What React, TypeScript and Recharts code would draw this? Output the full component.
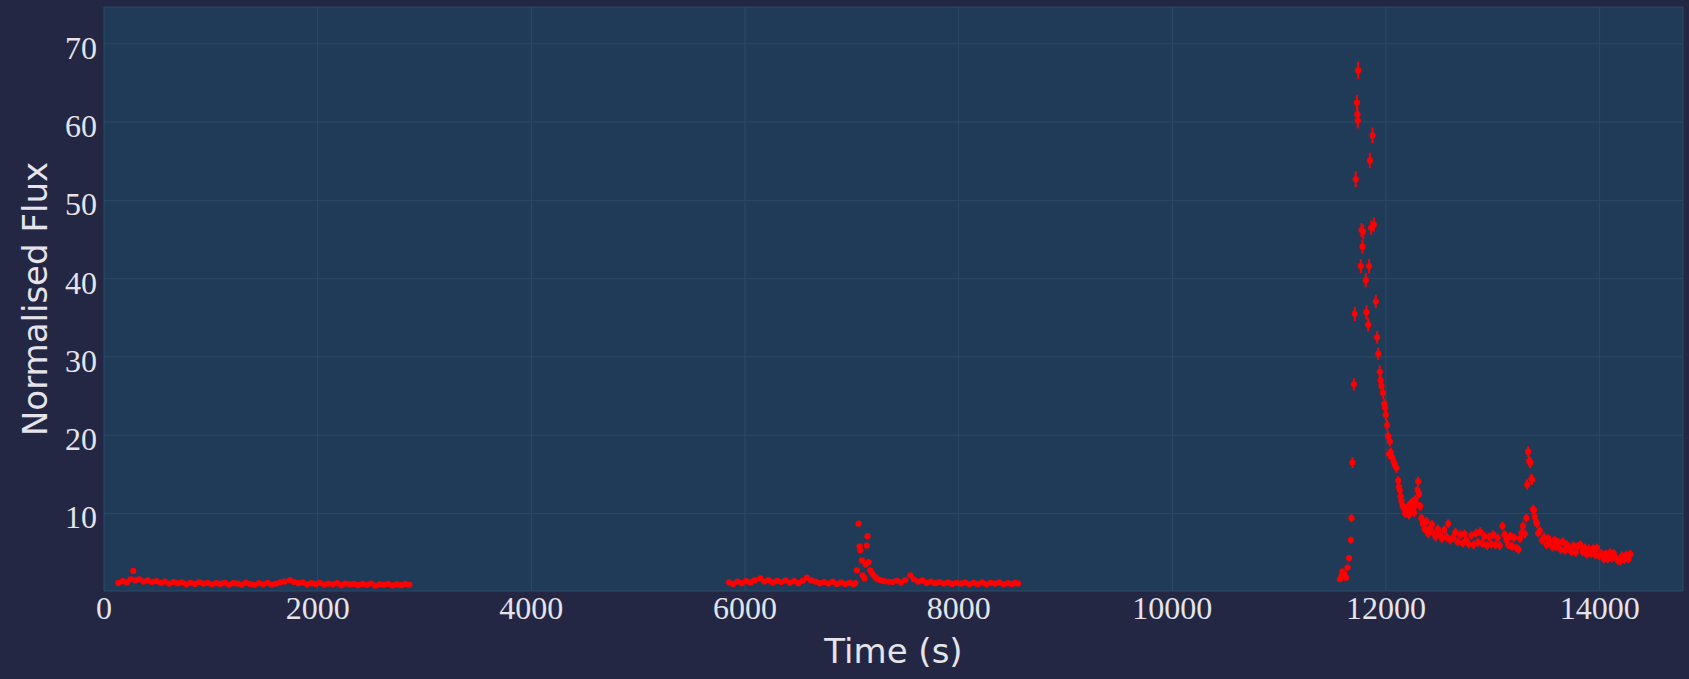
import React from 'react';
import { ScatterChart, Scatter, XAxis, YAxis, CartesianGrid, ErrorBar } from 'recharts';

// ---- Data ----
const xTicks = [0, 2000, 4000, 6000, 8000, 10000, 12000, 14000];
const yTicks = [10, 20, 30, 40, 50, 60, 70];

const seg1Time = [134, 175, 215, 250, 274, 295, 330, 370, 410, 450, 490, 530, 570, 610, 650, 690, 730, 770, 810, 850, 890, 930, 970, 1010, 1050, 1090, 1130, 1170, 1210, 1250, 1290, 1330, 1370, 1410, 1450, 1490, 1530, 1570, 1610, 1650, 1690, 1741, 1780, 1820, 1860, 1900, 1940, 1980, 2020, 2060, 2100, 2140, 2180, 2220, 2260, 2300, 2340, 2380, 2420, 2460, 2500, 2540, 2580, 2620, 2660, 2700, 2740, 2780, 2820, 2858];
const seg1Flux = [1.15, 1.35, 1.2, 1.6, 2.67, 1.45, 1.6, 1.3, 1.45, 1.25, 1.35, 1.15, 1.3, 1.05, 1.25, 1.1, 1.2, 0.95, 1.15, 1.0, 1.25, 1.05, 1.15, 0.95, 1.1, 1.0, 1.15, 0.9, 1.1, 1.05, 0.9, 1.15, 1.0, 0.9, 1.1, 0.95, 1.15, 0.9, 1.05, 1.2, 1.3, 1.5, 1.25, 1.1, 1.2, 0.95, 1.1, 1.0, 1.15, 0.9, 1.05, 0.95, 1.1, 0.85, 1.05, 0.95, 1.0, 0.85, 1.0, 0.9, 1.05, 0.8, 0.95, 0.9, 1.0, 0.8, 0.95, 0.85, 1.0, 0.9];

const seg2Time = [5852, 5890, 5930, 5970, 6010, 6050, 6090, 6143, 6180, 6220, 6260, 6300, 6340, 6380, 6420, 6460, 6500, 6540, 6580, 6620, 6660, 6700, 6740, 6780, 6820, 6860, 6900, 6940, 6980, 7016, 7032, 7048, 7063, 7073, 7079, 7094, 7100, 7119, 7130, 7141, 7147, 7157, 7172, 7188, 7204, 7225, 7245, 7266, 7300, 7340, 7380, 7420, 7460, 7500, 7547, 7580, 7620, 7660, 7700, 7740, 7780, 7820, 7860, 7900, 7940, 7980, 8020, 8060, 8100, 8140, 8180, 8220, 8260, 8300, 8340, 8380, 8420, 8460, 8500, 8530, 8557];
const seg2Flux = [1.2, 1.0, 1.3, 1.1, 1.35, 1.2, 1.45, 1.7, 1.3, 1.5, 1.2, 1.4, 1.25, 1.45, 1.15, 1.35, 1.1, 1.4, 1.8, 1.45, 1.3, 1.1, 1.25, 1.05, 1.3, 1.0, 1.2, 1.0, 1.15, 0.95, 1.1, 2.75, 8.7, 5.8, 5.3, 4.0, 2.1, 1.7, 3.5, 5.9, 7.1, 3.8, 2.75, 2.4, 2.1, 1.8, 1.6, 1.5, 1.35, 1.3, 1.25, 1.4, 1.2, 1.5, 2.1, 1.6, 1.3, 1.45, 1.15, 1.3, 1.1, 1.25, 1.05, 1.2, 1.0, 1.15, 1.05, 1.2, 0.95, 1.15, 1.0, 1.2, 0.95, 1.15, 1.05, 1.2, 0.95, 1.1, 1.0, 1.15, 1.05];

const seg3Time = [11568, 11584, 11592, 11599, 11610, 11625, 11640, 11655, 11671, 11677, 11686, 11699, 11708, 11717, 11728, 11732, 11736, 11739, 11764, 11771, 11780, 11786, 11811, 11817, 11833, 11842, 11849, 11861, 11874, 11886, 11905, 11917, 11927, 11942, 11950, 11958, 11973, 11985, 11992, 11998, 12011, 12020, 12029, 12036, 12045, 12061, 12072, 12083, 12098, 12114, 12122, 12129, 12137, 12145, 12155, 12167, 12180, 12192, 12205, 12215, 12223, 12235, 12245, 12254, 12265, 12276, 12286, 12295, 12301, 12310, 12320, 12332, 12345, 12363, 12380, 12395, 12410, 12430, 12446, 12465, 12485, 12505, 12525, 12545, 12565, 12582, 12600, 12628, 12650, 12670, 12695, 12720, 12735, 12753, 12775, 12800, 12820, 12845, 12860, 12882, 12900, 12920, 12945, 12965, 12985, 13005, 13025, 13045, 13065, 13090, 13110, 13127, 13145, 13164, 13180, 13200, 13221, 13241, 13255, 13268, 13283, 13300, 13314, 13322, 13330, 13340, 13351, 13361, 13367, 13377, 13385, 13392, 13405, 13413, 13424, 13440, 13460, 13480, 13502, 13520, 13538, 13560, 13580, 13595, 13615, 13635, 13655, 13675, 13694, 13715, 13735, 13755, 13775, 13795, 13819, 13840, 13860, 13880, 13900, 13920, 13940, 13960, 13975, 13995, 14015, 14037, 14055, 14075, 14095, 14115, 14131, 14150, 14170, 14193, 14210, 14230, 14250, 14270, 14287];
const seg3Flux = [1.6, 2.0, 2.6, 1.9, 2.3, 1.8, 3.1, 4.3, 6.6, 9.4, 16.5, 26.5, 35.5, 52.7, 62.5, 61.0, 60.2, 66.6, 41.6, 46.2, 44.1, 46.0, 39.8, 35.7, 34.1, 41.6, 55.1, 46.5, 58.3, 46.9, 37.1, 32.5, 30.4, 28.1, 27.0, 26.3, 25.4, 24.0, 23.5, 22.6, 21.3, 19.9, 17.6, 19.2, 17.8, 17.1, 16.6, 16.2, 15.8, 14.2, 13.4, 13.0, 12.2, 11.6, 11.0, 10.7, 10.0, 10.3, 10.9, 9.8, 11.2, 10.4, 11.5, 10.7, 10.1, 11.8, 11.2, 13.0, 14.1, 12.5, 10.9, 9.4, 8.7, 8.0, 9.0, 7.4, 8.1, 8.6, 7.5, 7.0, 8.0, 7.3, 6.8, 7.9, 7.0, 8.7, 6.6, 6.9, 7.6, 6.4, 7.3, 6.2, 7.4, 6.6, 6.1, 7.2, 6.0, 7.5, 6.3, 7.7, 6.2, 7.1, 5.9, 7.0, 6.1, 7.3, 6.0, 6.9, 5.9, 8.4, 7.3, 6.6, 6.0, 7.1, 5.8, 6.9, 5.6, 5.4, 6.8, 7.5, 8.4, 7.4, 9.4, 13.7, 17.9, 16.7, 16.5, 14.4, 14.3, 10.5, 10.4, 9.6, 8.9, 8.7, 7.5, 7.8, 6.6, 7.0, 6.0, 6.8, 6.3, 5.7, 6.6, 5.8, 6.3, 5.4, 6.4, 5.3, 6.0, 5.5, 5.1, 5.9, 5.0, 5.8, 6.0, 5.1, 5.6, 4.8, 5.5, 4.9, 5.5, 4.7, 5.6, 4.6, 4.9, 4.2, 4.8, 4.2, 5.0, 4.3, 4.9, 4.4, 4.0, 3.9, 4.6, 4.1, 4.7, 4.2, 4.8];
const seg3Err = [0.3, 0.3, 0.3, 0.3, 0.3, 0.3, 0.35, 0.4, 0.45, 0.5, 0.7, 0.8, 0.9, 1.0, 1.0, 1.0, 1.0, 1.1, 0.9, 0.9, 0.9, 0.9, 0.9, 0.9, 0.85, 0.9, 1.0, 0.9, 1.0, 0.9, 0.85, 0.8, 0.8, 0.8, 0.75, 0.75, 0.75, 0.7, 0.7, 0.7, 0.7, 0.65, 0.65, 0.65, 0.6, 0.6, 0.6, 0.6, 0.6, 0.55, 0.55, 0.55, 0.55, 0.55, 0.55, 0.55, 0.55, 0.55, 0.55, 0.55, 0.55, 0.55, 0.55, 0.55, 0.55, 0.55, 0.55, 0.6, 0.6, 0.55, 0.55, 0.55, 0.55, 0.55, 0.55, 0.55, 0.55, 0.55, 0.55, 0.55, 0.55, 0.55, 0.55, 0.55, 0.55, 0.55, 0.55, 0.55, 0.55, 0.55, 0.55, 0.55, 0.55, 0.55, 0.55, 0.55, 0.55, 0.55, 0.55, 0.55, 0.55, 0.55, 0.55, 0.55, 0.55, 0.55, 0.55, 0.55, 0.55, 0.55, 0.55, 0.55, 0.55, 0.55, 0.55, 0.55, 0.55, 0.55, 0.55, 0.55, 0.55, 0.55, 0.55, 0.65, 0.7, 0.7, 0.7, 0.65, 0.65, 0.6, 0.6, 0.55, 0.55, 0.55, 0.55, 0.55, 0.55, 0.55, 0.55, 0.55, 0.55, 0.55, 0.55, 0.55, 0.55, 0.55, 0.55, 0.55, 0.55, 0.55, 0.55, 0.55, 0.55, 0.55, 0.55, 0.55, 0.55, 0.55, 0.55, 0.55, 0.55, 0.55, 0.55, 0.55, 0.55, 0.55, 0.55, 0.55, 0.55, 0.55, 0.55, 0.55, 0.55, 0.55, 0.55, 0.55, 0.55, 0.55, 0.55, 0.55, 0.55];

const build = (t: number[], f: number[], e?: number[]) =>
  t.map((time, i) => ({ time, flux: f[i], err: e ? e[i] : 0 }));

const seg1 = build(seg1Time, seg1Flux);
const seg2 = build(seg2Time, seg2Flux);
const seg3 = build(seg3Time, seg3Flux, seg3Err);

const OUTER_BG = '#232744';
const PLOT_BG = '#1f3b58';
const GRID = '#2c4a68';
const TEXT = '#e4e4ea';
const RED = '#ff0000';

const Dot = (p: any) => <circle cx={p.cx} cy={p.cy} r={3.1} fill={RED} />;

const XTick = (p: any) => (
  <text x={p.x} y={p.y + 28} textAnchor="middle" fill={TEXT} fontFamily="'Liberation Serif', serif" fontSize={32}>
    {p.payload.value}
  </text>
);

const YTick = (p: any) => (
  <text x={p.x - 7} y={p.y + 15} textAnchor="end" fill={TEXT} fontFamily="'Liberation Serif', serif" fontSize={32}>
    {p.payload.value}
  </text>
);

export default function App() {
  return (
    <div style={{ position: 'fixed', left: 0, top: 0, width: 1689, height: 679, background: OUTER_BG }}>
      <ScatterChart width={1689} height={679} margin={{ top: 7, right: 6, bottom: 0, left: 0 }}>
        <CartesianGrid fill={PLOT_BG} stroke={GRID} strokeWidth={1} />
        <XAxis
          type="number"
          dataKey="time"
          domain={[0, 14780]}
          ticks={xTicks}
          allowDataOverflow
          height={88}
          axisLine={false}
          tickLine={false}
          tickSize={0}
          tickMargin={0}
          tick={<XTick />}
          interval={0}
          label={{
            content: (props: any) => {
              const vb = props.viewBox || {};
              return (
                <text x={vb.x + vb.width / 2} y={vb.y + 72} textAnchor="middle" fill={TEXT} fontFamily="'DejaVu Sans', sans-serif" fontSize={34}>
                  Time (s)
                </text>
              );
            },
          }}
        />
        <YAxis
          type="number"
          dataKey="flux"
          domain={[0.1, 74.7]}
          ticks={yTicks}
          allowDataOverflow
          width={104}
          axisLine={false}
          tickLine={false}
          tickSize={0}
          tickMargin={0}
          tick={<YTick />}
          interval={0}
          label={{
            content: (props: any) => {
              const vb = props.viewBox || {};
              const cx = 47;
              const cy = vb.y + vb.height / 2;
              return (
                <text x={cx} y={cy} transform={`rotate(-90, ${cx}, ${cy})`} textAnchor="middle" fill={TEXT} fontFamily="'DejaVu Sans', sans-serif" fontSize={34}>
                  Normalised Flux
                </text>
              );
            },
          }}
        />
        <Scatter data={seg1} dataKey="flux" fill={RED} shape={<Dot />} isAnimationActive={false} />
        <Scatter data={seg2} dataKey="flux" fill={RED} shape={<Dot />} isAnimationActive={false} />
        <Scatter data={seg3} dataKey="flux" fill={RED} shape={<Dot />} isAnimationActive={false}>
          <ErrorBar dataKey="err" direction="y" width={0} stroke={RED} strokeWidth={2} isAnimationActive={false} />
        </Scatter>
      </ScatterChart>
    </div>
  );
}
